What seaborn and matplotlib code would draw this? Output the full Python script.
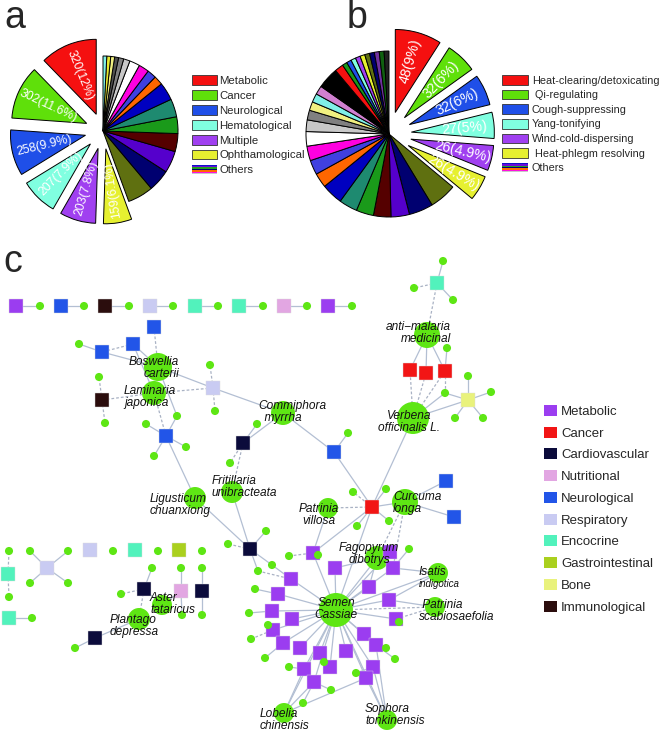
import numpy as np
import pandas as pd
import matplotlib
matplotlib.use("Agg")
import matplotlib.pyplot as plt
import seaborn as sns
from matplotlib.patches import Rectangle, Patch
from matplotlib.legend_handler import HandlerBase
from matplotlib.collections import LineCollection

# ---------------- data: panel a ----------------
a_categories = ["Metabolic", "Cancer", "Neurological", "Hematological", "Multiple", "Ophthamological"]
a_values = [320, 302, 258, 207, 203, 159]
a_pct = ["12%", "11.6%", "9.9%", "7.9%", "7.8%", "6.1%"]
a_other_values = [145, 123, 123, 101, 94, 101, 101, 51, 51, 58, 58, 36, 29, 22, 22, 22, 21]

# ---------------- data: panel b ----------------
b_categories = ["Heat-clearing/detoxicating", " Qi-regulating", "Cough-suppressing", "Yang-tonifying",
                "Wind-cold-dispersing", " Heat-phlegm resolving"]
b_values = [48, 32, 32, 27, 26, 26]
b_pct = ["9%", "6%", "6%", "5%", "4.9%", "4.9%"]
b_other_values = [28, 25, 19, 18, 18, 19, 22, 15, 15, 15, 15, 12, 10, 9, 9, 9, 22, 9,
                  5, 5, 5, 5, 5, 5, 5, 5, 5, 5]

# ---------------- colours ----------------
main_colors = ["#F51010", "#5FE00A", "#1F4FE8", "#80FFE0", "#A040F0", "#E6F030"]
a_other_colors = ["#5F7010", "#000070", "#5500CC", "#550000", "#1A9A1A", "#1E8A70", "#0000C0",
                  "#FF6600", "#4040E0", "#FF00E0", "#FFFFFF", "#C8C8C8", "#808080", "#505050",
                  "#F0F080", "#E8E830", "#80F0E8"]
b_other_colors = ["#5F7010", "#000070", "#5500CC", "#550000", "#1A9A1A", "#1E8A70", "#0000C0",
                  "#FF6600", "#4040E0", "#FF00E0", "#FFFFFF", "#C8C8C8", "#808080", "#F0F080",
                  "#80F0E8", "#D080D0", "#000000", "#F51010", "#1A9A1A", "#1F4FE8", "#80FFE0",
                  "#A040F0", "#E6F030", "#5F7010", "#000070", "#7030A0", "#106010", "#202020"]
others_stripes = ["#1010C8", "#6A0AD8", "#20A020", "#000070", "#FF6A00", "#FF10E0", "#C8C8C8"]

# ---------------- data: panel c network ----------------
c_categories = ["Metabolic", "Cancer", "Cardiovascular", "Nutritional", "Neurological",
                "Respiratory", "Encocrine", "Gastrointestinal", "Bone", "Immunological"]
c_colors = ["#9B3DF0", "#F21515", "#0B0B3B", "#E2A6E2", "#2255E8",
            "#C9CBF2", "#52F2BC", "#AAD01E", "#E9F27C", "#2B0D0D"]
compound_color = "#5EE614"

target_nodes = [
    ("t0", 16, 306, "Metabolic"), ("t1", 61, 306, "Neurological"), ("t2", 105, 306, "Immunological"),
    ("t3", 150, 306, "Respiratory"), ("t4", 195, 306, "Encocrine"), ("t5", 239, 306, "Encocrine"),
    ("t6", 284, 306, "Nutritional"), ("t7", 328, 306, "Metabolic"),
    ("nb1", 154, 327, "Neurological"), ("nb2", 133, 344, "Neurological"), ("nb3", 102, 352, "Neurological"),
    ("im1", 102, 400, "Immunological"), ("re1", 213, 388, "Respiratory"), ("nb4", 166, 436, "Neurological"),
    ("cv1", 243, 443, "Cardiovascular"), ("nb5", 334, 452, "Neurological"),
    ("en1", 437, 283, "Encocrine"), ("ca1", 410, 370, "Cancer"), ("ca2", 426, 373, "Cancer"),
    ("ca3", 445, 371, "Cancer"), ("bo1", 468, 400, "Bone"),
    ("nb6", 446, 481, "Neurological"), ("nb7", 454, 517, "Neurological"), ("ca4", 372, 507, "Cancer"),
    ("cv2", 250, 549, "Cardiovascular"),
    ("re2", 90, 550, "Respiratory"), ("en2", 135, 550, "Encocrine"), ("gi1", 179, 550, "Gastrointestinal"),
    ("re3", 47, 568, "Respiratory"), ("en3", 8, 574, "Encocrine"), ("en4", 9, 618, "Encocrine"),
    ("cv3", 144, 589, "Cardiovascular"), ("nu1", 181, 591, "Nutritional"), ("cv4", 202, 591, "Cardiovascular"),
    ("cv5", 95, 638, "Cardiovascular"),
    ("p1", 313, 553, "Metabolic"), ("p2", 335, 568, "Metabolic"), ("p3", 291, 579, "Metabolic"),
    ("p4", 278, 594, "Metabolic"), ("p5", 272, 611, "Metabolic"), ("p6", 292, 619, "Metabolic"),
    ("p7", 369, 587, "Metabolic"), ("p8", 389, 600, "Metabolic"), ("p9", 396, 619, "Metabolic"),
    ("p10", 393, 568, "Metabolic"), ("p11", 390, 552, "Metabolic"), ("p12", 273, 630, "Metabolic"),
    ("p13", 283, 643, "Metabolic"), ("p14", 300, 648, "Metabolic"), ("p15", 320, 653, "Metabolic"),
    ("p16", 346, 651, "Metabolic"), ("p17", 364, 634, "Metabolic"), ("p18", 376, 645, "Metabolic"),
    ("p19", 373, 667, "Metabolic"), ("p20", 366, 678, "Metabolic"), ("p21", 330, 667, "Metabolic"),
    ("p22", 304, 669, "Metabolic"), ("p23", 314, 682, "Metabolic"),
]

compound_nodes = [
    ("c0", 40, 306), ("c1", 84, 306), ("c2", 129, 306), ("c3", 173, 306), ("c4", 218, 306),
    ("c5", 263, 306), ("c6", 307, 306), ("c7", 352, 306),
    ("cb3", 79, 344), ("ci1", 99, 377), ("ci2", 105, 423), ("cr1", 210, 365), ("cr2", 215, 411),
    ("cn1", 146, 424), ("cn2", 186, 447), ("cn3", 154, 456), ("cn4", 177, 416),
    ("ck1", 257, 424), ("ck2", 230, 463), ("cn5", 348, 433),
    ("ce1", 443, 261), ("ce2", 414, 288), ("ce3", 453, 300), ("cc1", 447, 348),
    ("cbo1", 468, 376), ("cbo2", 491, 392), ("cbo3", 483, 418), ("cbo4", 455, 418), ("cbo5", 445, 393),
    ("cc2", 386, 489), ("cc3", 389, 521), ("cc4", 353, 492), ("cc5", 357, 526),
    ("cv2a", 266, 531), ("cv2b", 228, 544), ("cv2c", 258, 571), ("cv2d", 272, 565),
    ("s1", 289, 556), ("s2", 318, 555), ("s3", 255, 589), ("s4", 249, 613), ("s5", 268, 625),
    ("s6", 251, 639), ("s7", 265, 658), ("s8", 289, 667), ("s9", 324, 662), ("s10", 331, 690),
    ("s11", 303, 703), ("s12", 356, 673), ("s13", 386, 648), ("s14", 395, 659), ("s15", 399, 622),
    ("s16", 409, 549),
    ("cl1", 9, 551), ("cl2", 30, 551), ("cl3", 68, 551), ("cl4", 113, 551), ("cl5", 158, 551),
    ("cl6", 202, 551), ("cl7", 30, 583), ("cl8", 68, 583), ("cl9", 9, 597), ("cl10", 32, 618),
    ("cl11", 152, 568), ("cl12", 181, 568), ("cl13", 202, 568), ("cl14", 121, 594),
    ("cl15", 182, 615), ("cl16", 202, 615), ("cl17", 75, 648),
]

herb_nodes = [
    ("H_bos", 158, 367, 28), ("H_lam", 154, 393, 24), ("H_com", 283, 413, 24), ("H_ant", 427, 335, 26),
    ("H_ver", 413, 418, 32), ("H_fri", 232, 492, 22), ("H_lig", 195, 498, 22), ("H_cur", 405, 502, 26),
    ("H_pvi", 328, 508, 20), ("H_fag", 377, 558, 24), ("H_isa", 438, 573, 20), ("H_psc", 435, 607, 20),
    ("H_sem", 336, 610, 34), ("H_lob", 284, 713, 20), ("H_sop", 387, 720, 20), ("H_ast", 162, 605, 20),
    ("H_pla", 139, 619, 22),
]

# label text, anchor x, anchor y, horizontal alignment, font size
herb_labels = [
    ("Boswellia\ncarterii", 179, 368, "right", 8.6),
    ("Laminaria\njaponica", 124, 397, "left", 8.6),
    ("Commiphora\n  myrrha", 258, 412, "left", 8.6),
    ("anti\u2212malaria\nmedicinal", 451, 333, "right", 8.6),
    ("Verbena\nofficinalis L.", 409, 422, "center", 8.6),
    ("Fritillaria\nunibracteata", 212, 487, "left", 8.6),
    ("Ligusticum\nchuanxiong", 150, 505, "left", 8.6),
    ("Patrinia\nvillosa", 319, 515, "center", 8.6),
    ("Curcuma\nlonga", 393, 503, "left", 8.6),
    ("Fagopyrum\ndibotrys", 369, 554, "center", 8.6),
    ("Isatis", 419, 572, "left", 8.6),
    ("indigotica", 419, 584, "left", 7.0),
    (" Patrinia\nscabiosaefolia", 419, 611, "left", 8.6),
    ("Semen\nCassiae", 336, 609, "center", 8.6),
    ("Lobelia\nchinensis", 260, 720, "left", 8.6),
    ("Sophora\ntonkinensis", 365, 715, "left", 8.6),
    ("Aster\ntataricus", 150, 604, "left", 8.6),
    ("Plantago\ndepressa", 110, 626, "left", 8.6),
]

solid_edges = [
    ("t0", "c0"), ("t1", "c1"), ("t2", "c2"), ("t3", "c3"), ("t4", "c4"), ("t5", "c5"), ("t6", "c6"), ("t7", "c7"),
    ("nb2", "H_bos"), ("nb3", "H_bos"), ("nb3", "cb3"), ("nb2", "H_lam"),
    ("re1", "H_bos"), ("re1", "H_com"),
    ("nb4", "cn1"), ("nb4", "cn2"), ("nb4", "cn3"), ("nb4", "cn4"), ("cn4", "H_bos"), ("nb4", "H_lig"),
    ("cv1", "H_com"), ("cv1", "ck1"), ("H_com", "nb5"), ("nb5", "cn5"), ("nb5", "ca4"),
    ("en1", "ce1"), ("en1", "ce3"),
    ("H_ant", "ca1"), ("H_ant", "ca2"), ("H_ant", "ca3"), ("ca3", "cc1"),
    ("H_ver", "cbo5"), ("H_ver", "bo1"), ("bo1", "cbo1"), ("bo1", "cbo2"), ("bo1", "cbo3"), ("bo1", "cbo4"),
    ("bo1", "cbo5"), ("H_ver", "ca4"),
    ("H_lig", "cv2"), ("H_fri", "cv2"), ("cv2", "cv2a"), ("cv2", "cv2c"), ("cv2", "cv2d"),
    ("H_cur", "nb6"), ("H_cur", "nb7"), ("H_cur", "ca4"), ("ca4", "cc2"), ("ca4", "cc3"), ("ca4", "cc5"),
    ("ca4", "H_sem"), ("ca4", "p1"), ("H_pvi", "p1"),
    ("H_sem", "p1"), ("H_sem", "p2"), ("H_sem", "p3"), ("H_sem", "p4"), ("H_sem", "p5"), ("H_sem", "p6"),
    ("H_sem", "p7"), ("H_sem", "p8"), ("H_sem", "p9"), ("H_sem", "p10"), ("H_sem", "p11"), ("H_sem", "p12"),
    ("H_sem", "p13"), ("H_sem", "p14"), ("H_sem", "p15"), ("H_sem", "p16"), ("H_sem", "p17"), ("H_sem", "p18"),
    ("H_sem", "p19"), ("H_sem", "p20"), ("H_sem", "p21"), ("H_sem", "p22"), ("H_sem", "p23"),
    ("H_sem", "H_fag"), ("H_sem", "H_isa"), ("H_sem", "H_lob"), ("H_sem", "H_sop"),
    ("s2", "p1"), ("s3", "p4"), ("s4", "p5"), ("s5", "p12"), ("s7", "p13"), ("s8", "p22"), ("s9", "p21"),
    ("s10", "p23"), ("s11", "p23"), ("s12", "p19"), ("s13", "p18"), ("s14", "p18"), ("s15", "p9"),
    ("s16", "p10"), ("cv2d", "p3"),
    ("H_fag", "p2"), ("H_fag", "p7"), ("H_fag", "p11"), ("H_isa", "p10"), ("H_isa", "p8"), ("H_psc", "p8"),
    ("H_lob", "p22"), ("H_lob", "p23"), ("H_lob", "p20"), ("H_sop", "p19"), ("H_sop", "p20"), ("H_sop", "p18"),
    ("re3", "cl2"), ("re3", "cl3"), ("re3", "cl7"), ("re3", "cl8"), ("en4", "cl10"),
    ("cv3", "cl11"), ("cv3", "H_ast"), ("nu1", "cl12"), ("nu1", "cl15"), ("nu1", "H_ast"),
    ("cv4", "cl13"), ("cv4", "cl16"), ("cv5", "H_pla"), ("cv5", "cl17"),
]
dashed_edges = [
    ("nb1", "H_bos"), ("nb2", "nb3"), ("im1", "ci1"), ("im1", "ci2"), ("im1", "H_lam"),
    ("re1", "cr1"), ("re1", "cr2"), ("re1", "H_lam"), ("nb4", "H_lam"),
    ("cv1", "ck2"), ("cv1", "H_fri"), ("en1", "ce2"), ("en1", "H_ant"),
    ("H_ver", "ca1"), ("H_ver", "ca2"), ("H_ver", "ca3"), ("cbo5", "ca3"),
    ("cv2", "cv2b"), ("ca4", "cc4"), ("ca4", "H_pvi"), ("H_cur", "H_fag"), ("H_cur", "p10"),
    ("H_sem", "H_psc"), ("s1", "p1"), ("s6", "p12"), ("cv2c", "p3"), ("H_psc", "p9"),
    ("en3", "cl1"), ("en3", "cl9"), ("cv3", "cl14"), ("cv3", "H_pla"),
]

# ---------------- figure ----------------
sns.set_theme(style="white")
plt.rcParams["font.family"] = ["Liberation Sans", "DejaVu Sans"]

W, H = 661, 733
fig = plt.figure(figsize=(W / 100, H / 100), dpi=100)
fig.patch.set_facecolor("white")


def fx(x):
    return x / W


def fy(y):
    return 1 - y / H


# ---- network axes (pixel-like data coordinates) ----
ax_c = fig.add_axes([0, 0, 1, 1])

tdf = pd.DataFrame(target_nodes, columns=["id", "x", "y", "cat"])
cdf = pd.DataFrame(compound_nodes, columns=["id", "x", "y"])
hdf = pd.DataFrame(herb_nodes, columns=["id", "x", "y", "d"])
hdf["area"] = (0.72 * hdf["d"]) ** 2

pos = {}
for df in (tdf, cdf, hdf):
    for r in df.itertuples():
        pos[r.id] = (r.x, r.y)

ax_c.add_collection(LineCollection([[pos[a], pos[b]] for a, b in solid_edges],
                                   colors="#B3BFD3", linewidths=0.9, zorder=1))
ax_c.add_collection(LineCollection([[pos[a], pos[b]] for a, b in dashed_edges],
                                   colors="#A9B2C4", linewidths=0.9, linestyles=(0, (2.2, 1.6)), zorder=1))

sns.scatterplot(data=hdf, x="x", y="y", size="area", sizes=(hdf["area"].min(), hdf["area"].max()),
                size_norm=(hdf["area"].min(), hdf["area"].max()), color=compound_color,
                edgecolor="none", legend=False, ax=ax_c, zorder=2)
palette = dict(zip(c_categories, c_colors))
sns.scatterplot(data=tdf, x="x", y="y", hue="cat", palette=palette, marker="s", s=95,
                edgecolor="#DDDDDD", linewidth=0.3, legend=False, ax=ax_c, zorder=3)
sns.scatterplot(data=cdf, x="x", y="y", color=compound_color, s=34, edgecolor="none",
                legend=False, ax=ax_c, zorder=4)
ax_c.set_xlim(0, W)
ax_c.set_ylim(H, 0)
ax_c.axis("off")

for text, lx, ly, ha, fs in herb_labels:
    ax_c.text(lx, ly, text, ha=ha, va="center", multialignment=ha,
              fontsize=fs, style="italic", color="#111111", linespacing=0.95, zorder=6)


# ---- pies ----
def pie_axes(cx, cy, r):
    half = 1.6 * r
    ax = fig.add_axes([fx(cx - half), fy(cy + half), 2 * half / W, 2 * half / H])
    ax.set_facecolor("none")
    return ax


def label_wedges(ax, wedges, texts, rfrac, outward, fs):
    for w, t in zip(wedges, texts):
        mid = np.deg2rad((w.theta1 + w.theta2) / 2)
        cx, cy = w.center
        x = cx + rfrac * w.r * np.cos(mid)
        y = cy + rfrac * w.r * np.sin(mid)
        rot = np.rad2deg(mid) + (0 if outward else 180)
        rot = (rot + 180) % 360 - 180
        ax.text(x, y, t, rotation=rot, rotation_mode="anchor", ha="center", va="center",
                color="white", fontsize=fs)


ax_a = pie_axes(103, 131, 75)
vals_a = a_values + a_other_values
cols_a = main_colors + a_other_colors
expl_a = [0.24] * len(a_values) + [0] * len(a_other_values)
wa, _ = ax_a.pie(vals_a, colors=cols_a, explode=expl_a, startangle=90, counterclock=True,
                 wedgeprops=dict(edgecolor="black", linewidth=0.7), frame=True)
label_wedges(ax_a, wa[:len(a_values)], [f"{v}({p})" for v, p in zip(a_values, a_pct)], 0.56, False, 8.8)
ax_a.set_xlim(-1.6, 1.6)
ax_a.set_ylim(-1.6, 1.6)
ax_a.axis("off")

ax_b = pie_axes(389, 134, 83)
vals_b = b_values + b_other_values
cols_b = main_colors + b_other_colors
expl_b = [0.27] * len(b_values) + [0] * len(b_other_values)
wb, _ = ax_b.pie(vals_b, colors=cols_b, explode=expl_b, startangle=90, counterclock=False,
                 wedgeprops=dict(edgecolor="black", linewidth=0.7), frame=True)
label_wedges(ax_b, wb[:len(b_values)], [f"{v}({p})" for v, p in zip(b_values, b_pct)], 0.64, True, 10.2)
ax_b.set_xlim(-1.6, 1.6)
ax_b.set_ylim(-1.6, 1.6)
ax_b.axis("off")


# ---- legends ----
class StripeHandler(HandlerBase):
    def __init__(self, colors):
        super().__init__()
        self.colors = colors

    def create_artists(self, legend, orig_handle, xdescent, ydescent, width, height, fontsize, trans):
        n = len(self.colors)
        arts = []
        for i, c in enumerate(self.colors):
            arts.append(Rectangle((-xdescent, -ydescent + height * (n - 1 - i) / n), width, height / n,
                                  facecolor=c, edgecolor="none", transform=trans))
        return arts


others_a = Patch(facecolor="none", label="Others")
handles_a = [Patch(facecolor=c, edgecolor="#333333", linewidth=0.6) for c in main_colors] + [others_a]
fig.legend(handles_a, a_categories + ["Others"], loc="upper left", bbox_to_anchor=(fx(192), fy(75)),
           frameon=False, fontsize=8.2, handlelength=2.2, handleheight=0.95, handletextpad=0.2,
           labelspacing=0.36, borderpad=0, borderaxespad=0,
           handler_map={others_a: StripeHandler(others_stripes)})

others_b = Patch(facecolor="none", label="Others")
handles_b = [Patch(facecolor=c, edgecolor="#333333", linewidth=0.6) for c in main_colors] + [others_b]
fig.legend(handles_b, b_categories + ["Others"], loc="upper left", bbox_to_anchor=(fx(502), fy(75)),
           frameon=False, fontsize=7.85, handlelength=2.35, handleheight=0.97, handletextpad=0.4,
           labelspacing=0.38, borderpad=0, borderaxespad=0,
           handler_map={others_b: StripeHandler(others_stripes)})

handles_c = [Patch(facecolor=c, edgecolor="none") for c in c_colors]
fig.legend(handles_c, c_categories, loc="upper left", bbox_to_anchor=(fx(544), fy(405)),
           frameon=False, fontsize=9.5, handlelength=1.0, handleheight=0.9, handletextpad=0.3,
           labelspacing=0.66, borderpad=0, borderaxespad=0)

# ---- panel letters ----
fig.text(fx(4), fy(28), "a", fontsize=27, va="baseline", ha="left")
fig.text(fx(347), fy(28), "b", fontsize=27, va="baseline", ha="left")
fig.text(fx(3), fy(272), "c", fontsize=27, va="baseline", ha="left")

fig.savefig("out.png", dpi=100, facecolor="white")
